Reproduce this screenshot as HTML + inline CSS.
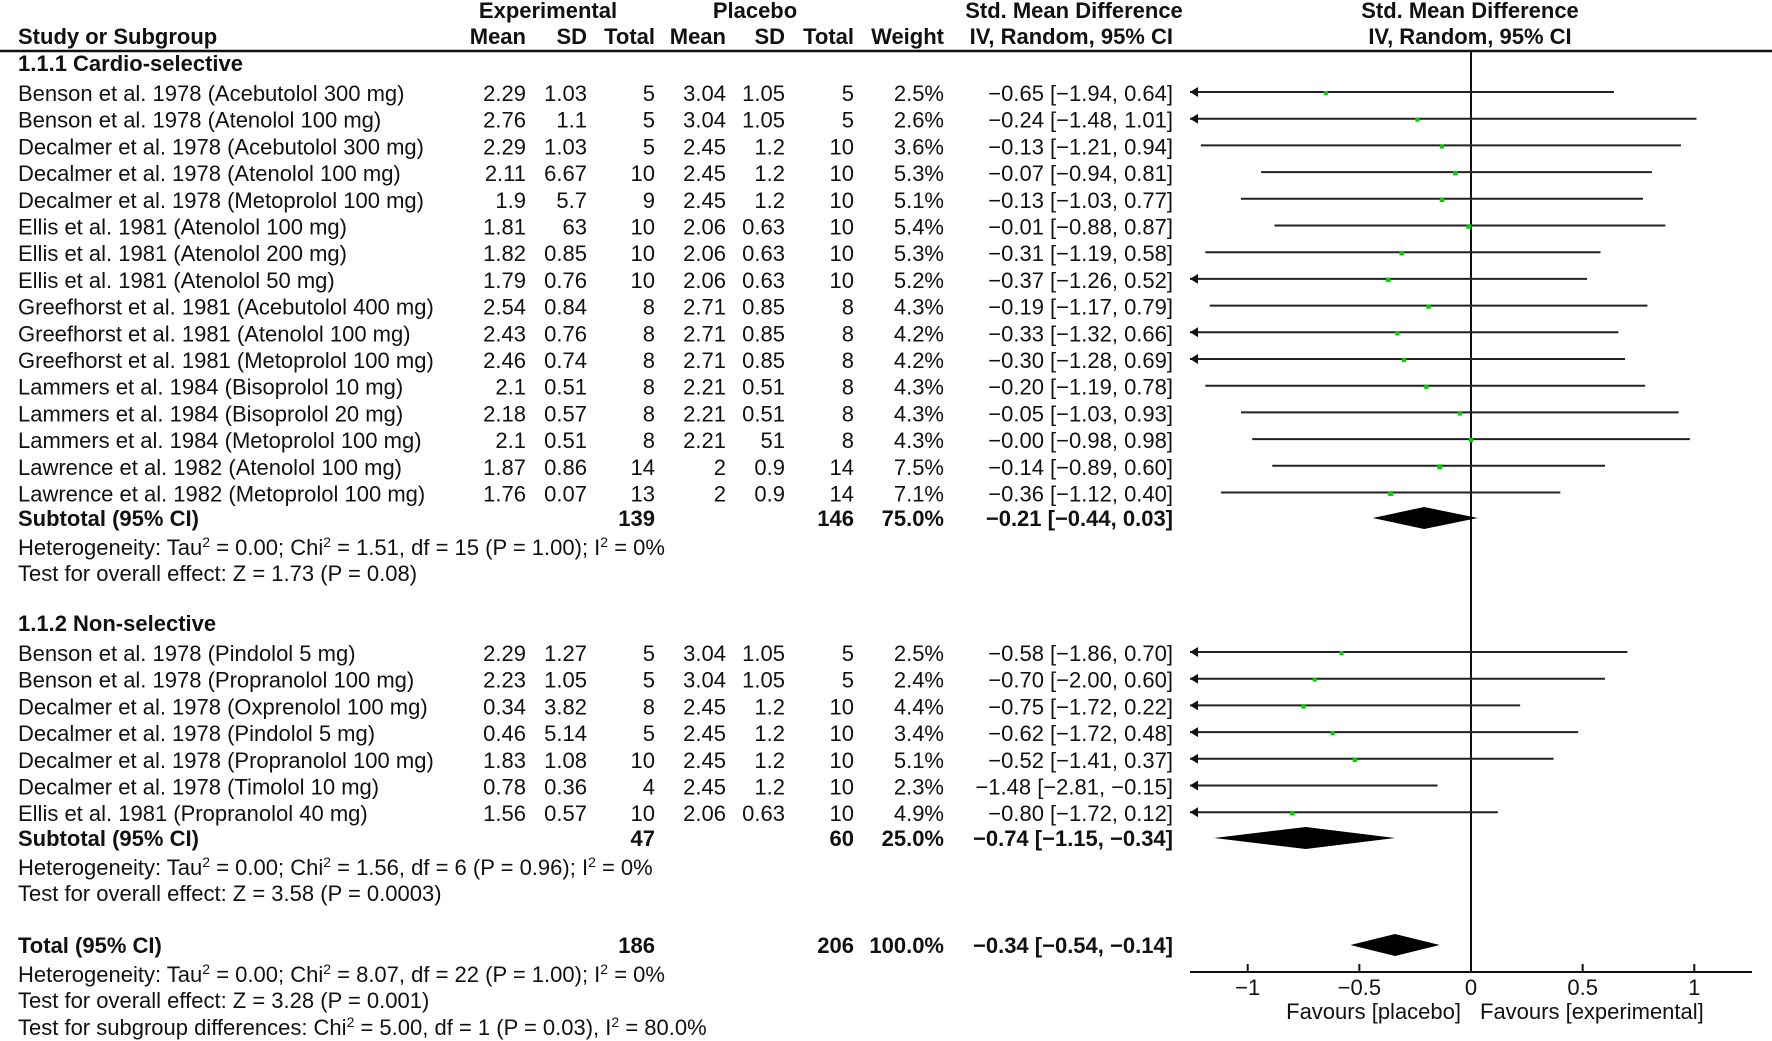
<!DOCTYPE html>
<html><head><meta charset="utf-8"><style>
html,body{margin:0;padding:0;background:#fff;}
svg{display:block;}
text{font-family:"Liberation Sans",sans-serif;font-size:22px;fill:#111;}
.b{font-weight:bold;}
</style></head><body>
<svg id="c" width="1772" height="1041" viewBox="0 0 1772 1041" xmlns="http://www.w3.org/2000/svg"></svg>
<script>
const names1=["Benson et al. 1978 (Acebutolol 300 mg)","Benson et al. 1978 (Atenolol 100 mg)","Decalmer et al. 1978 (Acebutolol 300 mg)","Decalmer et al. 1978 (Atenolol 100 mg)","Decalmer et al. 1978 (Metoprolol 100 mg)","Ellis et al. 1981 (Atenolol 100 mg)","Ellis et al. 1981 (Atenolol 200 mg)","Ellis et al. 1981 (Atenolol 50 mg)","Greefhorst et al. 1981 (Acebutolol 400 mg)","Greefhorst et al. 1981 (Atenolol 100 mg)","Greefhorst et al. 1981 (Metoprolol 100 mg)","Lammers et al. 1984 (Bisoprolol 10 mg)","Lammers et al. 1984 (Bisoprolol 20 mg)","Lammers et al. 1984 (Metoprolol 100 mg)","Lawrence et al. 1982 (Atenolol 100 mg)","Lawrence et al. 1982 (Metoprolol 100 mg)"];
const expMean1=["2.29","2.76","2.29","2.11","1.9","1.81","1.82","1.79","2.54","2.43","2.46","2.1","2.18","2.1","1.87","1.76"];
const expSD1=["1.03","1.1","1.03","6.67","5.7","63","0.85","0.76","0.84","0.76","0.74","0.51","0.57","0.51","0.86","0.07"];
const expN1=[5,5,5,10,9,10,10,10,8,8,8,8,8,8,14,13];
const plMean1=["3.04","3.04","2.45","2.45","2.45","2.06","2.06","2.06","2.71","2.71","2.71","2.21","2.21","2.21","2","2"];
const plSD1=["1.05","1.05","1.2","1.2","1.2","0.63","0.63","0.63","0.85","0.85","0.85","0.51","0.51","51","0.9","0.9"];
const plN1=[5,5,10,10,10,10,10,10,8,8,8,8,8,8,14,14];
const weight1=[2.5,2.6,3.6,5.3,5.1,5.4,5.3,5.2,4.3,4.2,4.2,4.3,4.3,4.3,7.5,7.1];
const est1=[-0.65,-0.24,-0.13,-0.07,-0.13,-0.01,-0.31,-0.37,-0.19,-0.33,-0.30,-0.20,-0.05,-0,-0.14,-0.36];
const lo1=[-1.94,-1.48,-1.21,-0.94,-1.03,-0.88,-1.19,-1.26,-1.17,-1.32,-1.28,-1.19,-1.03,-0.98,-0.89,-1.12];
const hi1=[0.64,1.01,0.94,0.81,0.77,0.87,0.58,0.52,0.79,0.66,0.69,0.78,0.93,0.98,0.60,0.40];
const names2=["Benson et al. 1978 (Pindolol 5 mg)","Benson et al. 1978 (Propranolol 100 mg)","Decalmer et al. 1978 (Oxprenolol 100 mg)","Decalmer et al. 1978 (Pindolol 5 mg)","Decalmer et al. 1978 (Propranolol 100 mg)","Decalmer et al. 1978 (Timolol 10 mg)","Ellis et al. 1981 (Propranolol 40 mg)"];
const expMean2=["2.29","2.23","0.34","0.46","1.83","0.78","1.56"];
const expSD2=["1.27","1.05","3.82","5.14","1.08","0.36","0.57"];
const expN2=[5,5,8,5,10,4,10];
const plMean2=["3.04","3.04","2.45","2.45","2.45","2.45","2.06"];
const plSD2=["1.05","1.05","1.2","1.2","1.2","1.2","0.63"];
const plN2=[5,5,10,10,10,10,10];
const weight2=[2.5,2.4,4.4,3.4,5.1,2.3,4.9];
const est2=[-0.58,-0.70,-0.75,-0.62,-0.52,-1.48,-0.80];
const lo2=[-1.86,-2.00,-1.72,-1.72,-1.41,-2.81,-1.72];
const hi2=[0.70,0.60,0.22,0.48,0.37,-0.15,0.12];
const subEst=[-0.21,-0.74], subLo=[-0.44,-1.15], subHi=[0.03,-0.34];
const totEst=-0.34, totLo=-0.54, totHi=-0.14;
const ticks=[-1,-0.5,0,0.5,1];
const tickLabels=["−1","−0.5","0","0.5","1"];

const svg=document.getElementById('c');
const NS='http://www.w3.org/2000/svg';
const X0=1471, U=223.3, XMIN=1190, XMAX=1752, AXY=972;
const xs=v=>X0+v*U;
function el(tag,attrs,parent){const e=document.createElementNS(NS,tag);for(const k in attrs)e.setAttribute(k,attrs[k]);(parent||svg).appendChild(e);return e;}
function txt(x,y,s,anchor,bold){const t=el('text',{x:x,y:y,'text-anchor':anchor||'start'});if(bold)t.setAttribute('class','b');t.textContent=s;return t;}
function f2(v){const neg=v<0||Object.is(v,-0);return (neg?'−':'')+Math.abs(v).toFixed(2);}
function ci(e,l,h){return f2(e)+' ['+f2(l)+', '+f2(h)+']';}

let t;
t=txt(548,18,'Experimental','middle',1);
t=txt(755,18,'Placebo','middle',1);
t=txt(1074,18,'Std. Mean Difference','middle',1);
t=txt(1470,18,'Std. Mean Difference','middle',1);
t=txt(18,44,'Study or Subgroup','start',1);
const hdr=[[526,'Mean'],[587,'SD'],[655,'Total'],[726,'Mean'],[785,'SD'],[854,'Total'],[944,'Weight'],[1173,'IV, Random, 95% CI']];
hdr.forEach(h=>{const e=txt(h[0],44,h[1],'end',1);});
t=txt(1470,44,'IV, Random, 95% CI','middle',1);
const rule=el('line',{x1:0,y1:51,x2:1772,y2:51,stroke:'#111','stroke-width':2.5});


const z=el('line',{x1:X0,y1:52,x2:X0,y2:AXY,stroke:'#111','stroke-width':2});


function group(label,ly,y0,names,em,es,en,pm,ps,pn,w,est,lo,hi){
  const g=txt(18,ly,label,'start',1);
  
  names.forEach((n,i)=>{
    const y=y0+i*26.7, ty=y+9;
    const r=el('g',{});
    
    const cells=[[18,n,'start'],[526,em[i],'end'],[587,es[i],'end'],[655,String(en[i]),'end'],[726,pm[i],'end'],[785,ps[i],'end'],[854,String(pn[i]),'end'],[944,w[i].toFixed(1)+'%','end'],[1173,ci(est[i],lo[i],hi[i]),'end']];
    cells.forEach(c=>{const e=el('text',{x:c[0],y:ty,'text-anchor':c[2]},r);e.textContent=c[1];});
    const l=Math.max(lo[i],(XMIN-X0)/U), h=Math.min(hi[i],(XMAX-X0)/U);
    const ln=el('line',{x1:xs(l),y1:y,x2:xs(h),y2:y,stroke:'#222','stroke-width':2},r);
    
    if(lo[i]<(XMIN-X0)/U){const a=el('polygon',{points:`${XMIN},${y} ${XMIN+8},${y-5} ${XMIN+8},${y+5}`,fill:'#111'},r);
      }
    if(est[i]>=(XMIN-X0)/U){const s=3.5+w[i]*0.2;
      const sq=el('rect',{x:xs(est[i])-s/2,y:y+1-s/2,width:s,height:s,fill:'#00d000'},r);
      }
  });
}
group('1.1.1 Cardio-selective',71,92,names1,expMean1,expSD1,expN1,plMean1,plSD1,plN1,weight1,est1,lo1,hi1);
group('1.1.2 Non-selective',631,652,names2,expMean2,expSD2,expN2,plMean2,plSD2,plN2,weight2,est2,lo2,hi2);

function diamond(e,l,h,y,name){const d=el('polygon',{points:`${xs(l)},${y} ${xs(e)},${y-11} ${xs(h)},${y} ${xs(e)},${y+11}`,fill:'#000'});
  }
function sumRow(y,label,n1,n2,w,e,l,h,name){
  const g=el('g',{});
  [[18,label,'start'],[655,n1,'end'],[854,n2,'end'],[944,w,'end'],[1173,ci(e,l,h),'end']].forEach(c=>{
    const tt=el('text',{x:c[0],y:y+8,'text-anchor':c[2],'class':'b'},g);tt.textContent=c[1];});
  diamond(e,l,h,y,name+'-diamond');
}
sumRow(518,'Subtotal (95% CI)','139','146','75.0%',subEst[0],subLo[0],subHi[0],'subtotal-cardio');
sumRow(838,'Subtotal (95% CI)','47','60','25.0%',subEst[1],subLo[1],subHi[1],'subtotal-nonselective');
sumRow(945,'Total (95% CI)','186','206','100.0%',totEst,totLo,totHi,'total');

function rich(y,parts,name){const t=el('text',{x:18,y:y});
  parts.forEach(p=>{const s=el('tspan',{},t);if(p[1]){s.setAttribute('dy','-8');s.setAttribute('font-size','14');}
    else if(p[2]){s.setAttribute('dy','8');}s.textContent=p[0];});}
function het(y,a,name){rich(y,[['Heterogeneity: Tau'],['2',1],[' = 0.00; Chi',0,1],['2',1],[' = '+a+'; I',0,1],['2',1],[' = 0%',0,1]],name);}
het(555,'1.51, df = 15 (P = 1.00)','heterogeneity-cardio');
txt(18,581,'Test for overall effect: Z = 1.73 (P = 0.08)');
het(875,'1.56, df = 6 (P = 0.96)','heterogeneity-nonselective');
txt(18,901,'Test for overall effect: Z = 3.58 (P = 0.0003)');
het(982,'8.07, df = 22 (P = 1.00)','heterogeneity-total');
txt(18,1008,'Test for overall effect: Z = 3.28 (P = 0.001)');
rich(1035,[['Test for subgroup differences: Chi'],['2',1],[' = 5.00, df = 1 (P = 0.03), I',0,1],['2',1],[' = 80.0%',0,1]],'subgroup-differences');

const ax=el('line',{x1:XMIN,y1:AXY,x2:XMAX,y2:AXY,stroke:'#111','stroke-width':2});

ticks.forEach((v,i)=>{const tk=el('line',{x1:xs(v),y1:AXY-8,x2:xs(v),y2:AXY,stroke:'#111','stroke-width':2});
  
  const lb=txt(xs(v),995,tickLabels[i],'middle');});
t=txt(1461,1019,'Favours [placebo]','end');
t=txt(1480,1019,'Favours [experimental]','start');
</script>
</body></html>
